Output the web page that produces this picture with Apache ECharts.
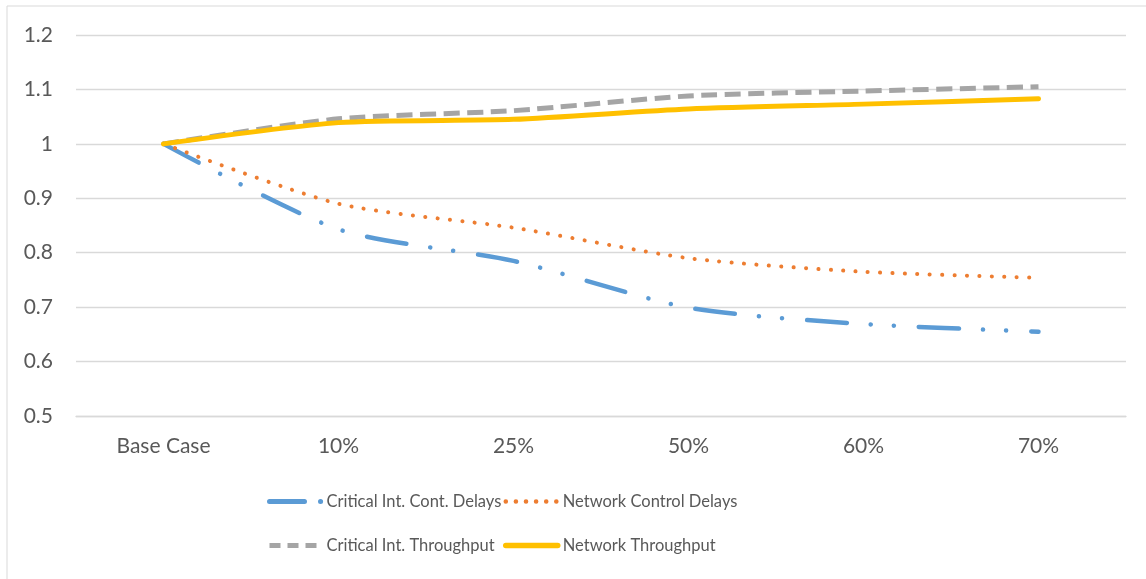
<!DOCTYPE html>
<html>
<head>
<meta charset="utf-8">
<script src="https://cdn.jsdelivr.net/npm/echarts@6/dist/echarts.min.js"></script>
<style>
  html, body { margin: 0; padding: 0; background: #fff; }
  #chart { width: 1146px; height: 579px; }
</style>
</head>
<body>
<div id="chart"></div>
<script>
// Scenario categories along the x axis
const categories = ['Base Case', '10%', '25%', '50%', '60%', '70%'];

// Relative performance, normalised to the base case
const criticalContDelays = [1.0, 0.843, 0.785, 0.699, 0.669, 0.655];
const networkControlDelays = [1.0, 0.890, 0.846, 0.790, 0.765, 0.754];
const criticalThroughput = [1.0, 1.046, 1.061, 1.088, 1.097, 1.105];
const networkThroughput = [1.0, 1.039, 1.045, 1.064, 1.073, 1.083];

// Value axis range
const yMin = 0.5, yMax = 1.2, yStep = 0.1;

const FONT = 'Lato';
const TEXT = '#595959';
const GRID = '#D9D9D9';

const chart = echarts.init(document.getElementById('chart'), null, { renderer: 'canvas' });

const blueDash = [40, 24, 0.1, 23, 0.1, 25];
const orangeDot = [0.1, 12.3];
const grayDash = [16, 7.5];

function lineSeries(name, data, color, width, dash, cap, z) {
  return {
    name: name,
    type: 'line',
    data: data,
    smooth: 0.25,
    symbol: 'none',
    showSymbol: false,
    z: z,
    lineStyle: { color: color, width: width, type: dash, cap: cap, join: 'round' },
    itemStyle: { color: color },
    emphasis: { disabled: true }
  };
}

const legendText = { fontFamily: FONT, fontSize: 16.5, color: TEXT };
// legend samples show only the line, no marker
const noMarker = { color: 'rgba(0,0,0,0)', borderWidth: 0, opacity: 0 };

chart.setOption({
  animation: false,
  backgroundColor: '#fff',
  graphic: [{
    type: 'rect',
    shape: { x: 7, y: 6, width: 1200, height: 700 },
    style: { fill: 'none', stroke: '#D9D9D9', lineWidth: 1 },
    silent: true
  }],
  grid: { left: 76, right: 20, top: 35, bottom: 579 - 416 },
  legend: [{
    orient: 'vertical',
    left: 267,
    top: 493,
    padding: 0,
    itemWidth: 52,
    itemHeight: 14,
    itemGap: 27,
    itemStyle: noMarker,
    textStyle: legendText,
    data: [
      { name: 'Critical Int. Cont. Delays', lineStyle: { type: [35, 16, 0.1, 40], width: 5, cap: 'round' } },
      { name: 'Critical Int. Throughput', lineStyle: { type: [11, 7], width: 5, cap: 'butt' } }
    ]
  }, {
    orient: 'vertical',
    left: 503,
    top: 493,
    padding: 0,
    itemWidth: 52,
    itemHeight: 14,
    itemGap: 27,
    itemStyle: noMarker,
    textStyle: legendText,
    data: [
      { name: 'Network Control Delays', lineStyle: { type: [0.1, 10], width: 4.5, cap: 'round' } },
      { name: 'Network Throughput', lineStyle: { width: 5.5, cap: 'round' } }
    ]
  }],
  xAxis: {
    type: 'category',
    data: categories,
    boundaryGap: true,
    axisLine: { show: true, lineStyle: { color: GRID, width: 1.3 } },
    axisTick: { show: false },
    axisLabel: { fontFamily: FONT, fontSize: 21, color: TEXT, margin: 20 }
  },
  yAxis: {
    type: 'value',
    min: yMin,
    max: yMax,
    interval: yStep,
    axisLine: { show: false },
    axisTick: { show: false },
    splitLine: { lineStyle: { color: GRID, width: 1.3 } },
    axisLabel: {
      fontFamily: FONT, fontSize: 21, color: TEXT, margin: 23,
      formatter: function (v) { return String(Math.round(v * 10) / 10); }
    }
  },
  series: [
    lineSeries('Critical Int. Cont. Delays', criticalContDelays, '#5B9BD5', 4.5, blueDash, 'round', 3),
    lineSeries('Network Control Delays', networkControlDelays, '#ED7D31', 4, orangeDot, 'round', 4),
    lineSeries('Critical Int. Throughput', criticalThroughput, '#A5A5A5', 5, grayDash, 'butt', 5),
    lineSeries('Network Throughput', networkThroughput, '#FFC000', 5, 'solid', 'round', 6)
  ]
});
</script>
</body>
</html>
